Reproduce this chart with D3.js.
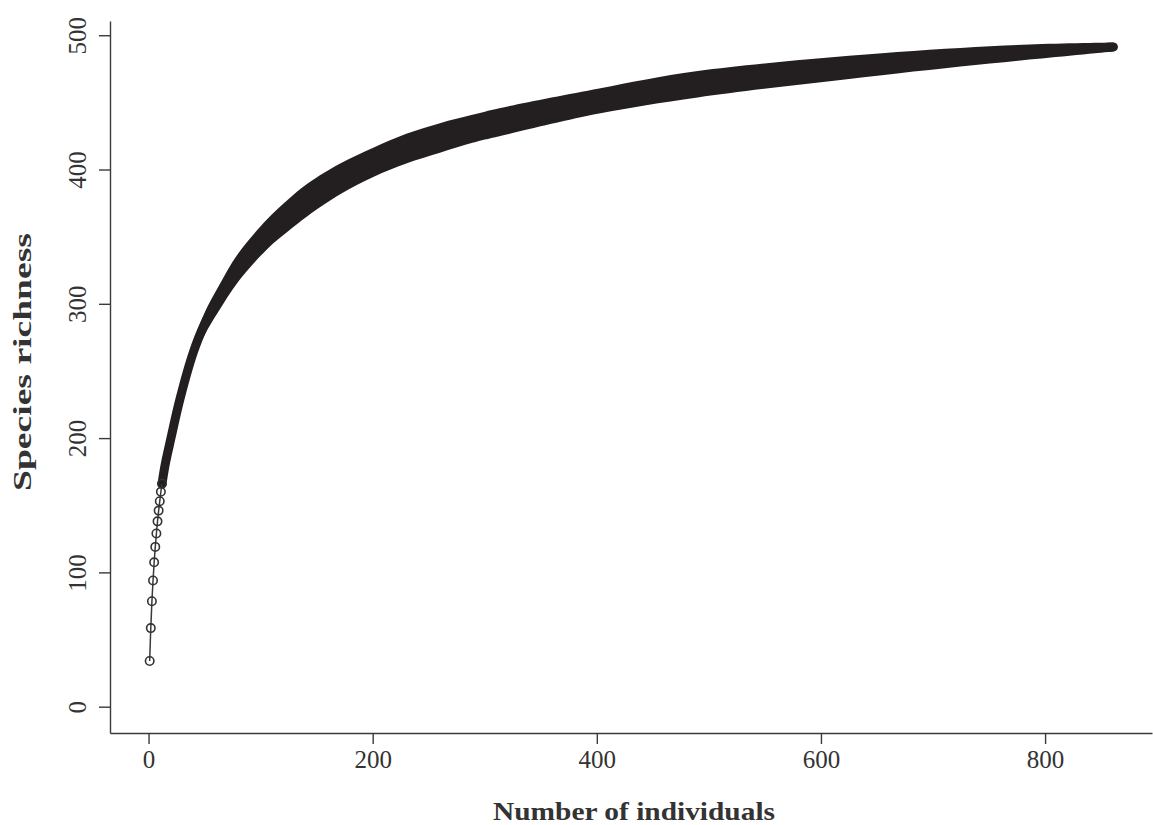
<!DOCTYPE html>
<html lang="en">
<head>
  <meta charset="UTF-8">
  <title>species accumulation</title>
  <script src="https://cdn.jsdelivr.net/npm/d3@7"></script>
  <style>
    * { padding: 0; margin: 0; }
    html, body { width: 1153px; height: 825px; overflow: hidden; background: #fff; }
    text { font-family: "Liberation Serif", "Times New Roman", serif; fill: #333; }
  </style>
</head>
<body>
  <script>
    // values: number of individuals, mean richness, half width of the error bars
    const sites = [1, 2, 3, 4, 5, 6, 7, 8, 9, 10, 11, 12,
      15, 20, 28, 40, 50, 62, 80, 106, 124, 142, 171, 201, 230, 260, 289, 313, 402, 490, 668, 786, 861]
    const richness = [34, 58.5, 78.5, 94, 107.5, 119, 129, 138, 146, 153, 160, 166,
      181, 200, 229, 264, 285, 303, 327, 352, 365.5, 377.5, 393, 405.5, 415.5, 423.5, 430.3, 435.2, 451, 463.5, 479.5, 487.5, 491.3]
    const ciHalf = [0, 0, 0, 0, 0, 0, 0, 0, 0, 0, 0, 0,
      0.5, 1.5, 2.5, 4, 5, 6, 7.2, 7.8, 8.5, 8.7, 8.1, 7.5, 7.7, 7.7, 7.1, 7.1, 6, 6.5, 4.6, 2.3, 0]
    const xTicks = [0, 200, 400, 600, 800]
    const yTicks = [0, 100, 200, 300, 400, 500]

    const width = 1153, height = 825
    const svg = d3.select('body').append('svg').attr('width', width).attr('height', height)

    // R style: data range padded by 4%
    const x = d3.scaleLinear().domain([-34.4, 895.4]).range([110, 1152])
    const y = d3.scaleLinear().domain([-19.6, 510.6]).range([733, 21])

    const data = sites.map((s, i) => ({ s, r: richness[i], h: ciHalf[i] }))
    const bandData = data.filter(d => d.s >= 12)
    const pointData = data.filter(d => d.s <= 12)
    const ink = '#231f20'
    const pointR = 4.5
    const curve = d3.curveCatmullRom.alpha(0.5)

    // error bars with a point on each end merge into a solid band
    const area = d3.area().curve(curve)
      .x(d => x(d.s)).y0(d => y(d.r - d.h) + pointR).y1(d => y(d.r + d.h) - pointR)
    svg.append('path').datum(bandData).attr('d', area).attr('fill', ink)

    // overlapping circles along the mean curve
    const line = d3.line().curve(curve).x(d => x(d.s)).y(d => y(d.r))
    svg.append('path').datum(bandData).attr('d', line)
      .attr('fill', 'none').attr('stroke', ink).attr('stroke-width', pointR * 2)
      .attr('stroke-linecap', 'round').attr('stroke-linejoin', 'round')

    // first individuals: separate points
    svg.append('path').datum(pointData).attr('d', line)
      .attr('fill', 'none').attr('stroke', '#3a3a3a').attr('stroke-width', 1.5)
    svg.append('g').selectAll('circle').data(pointData).join('circle')
      .attr('cx', d => x(d.s)).attr('cy', d => y(d.r)).attr('r', 4.2)
      .attr('fill', 'none').attr('stroke', '#333').attr('stroke-width', 1.6)

    // axes
    const xAxis = svg.append('g').attr('transform', `translate(0, 733)`)
      .call(d3.axisBottom(x).tickValues(xTicks).tickSize(11).tickSizeOuter(0).tickFormat(d3.format('d')))
    xAxis.selectAll('text').attr('y', 35).attr('dy', 0).style('font-size', '25px')

    const yAxis = svg.append('g').attr('transform', `translate(110, 0)`)
      .call(d3.axisLeft(y).tickValues(yTicks).tickSize(11).tickSizeOuter(0).tickFormat(d3.format('d')))
    yAxis.selectAll('text').attr('transform', 'rotate(-90)').attr('x', 0).attr('y', -24).attr('dy', 0)
      .attr('text-anchor', 'middle').style('font-size', '25px')

    svg.selectAll('.domain, .tick line').attr('stroke', '#3a3a3a').attr('stroke-width', 1.4)
    svg.selectAll('.tick text').attr('fill', '#333')

    // axis titles
    svg.append('text').attr('x', 634).attr('y', 820).attr('text-anchor', 'middle')
      .attr('textLength', 282).attr('lengthAdjust', 'spacingAndGlyphs')
      .style('font-size', '26px').style('font-weight', 'bold').text('Number of individuals')
    svg.append('text').attr('transform', 'translate(31, 362) rotate(-90)').attr('text-anchor', 'middle')
      .attr('textLength', 258).attr('lengthAdjust', 'spacingAndGlyphs')
      .style('font-size', '26px').style('font-weight', 'bold').text('Species richness')
  </script>
</body>
</html>
